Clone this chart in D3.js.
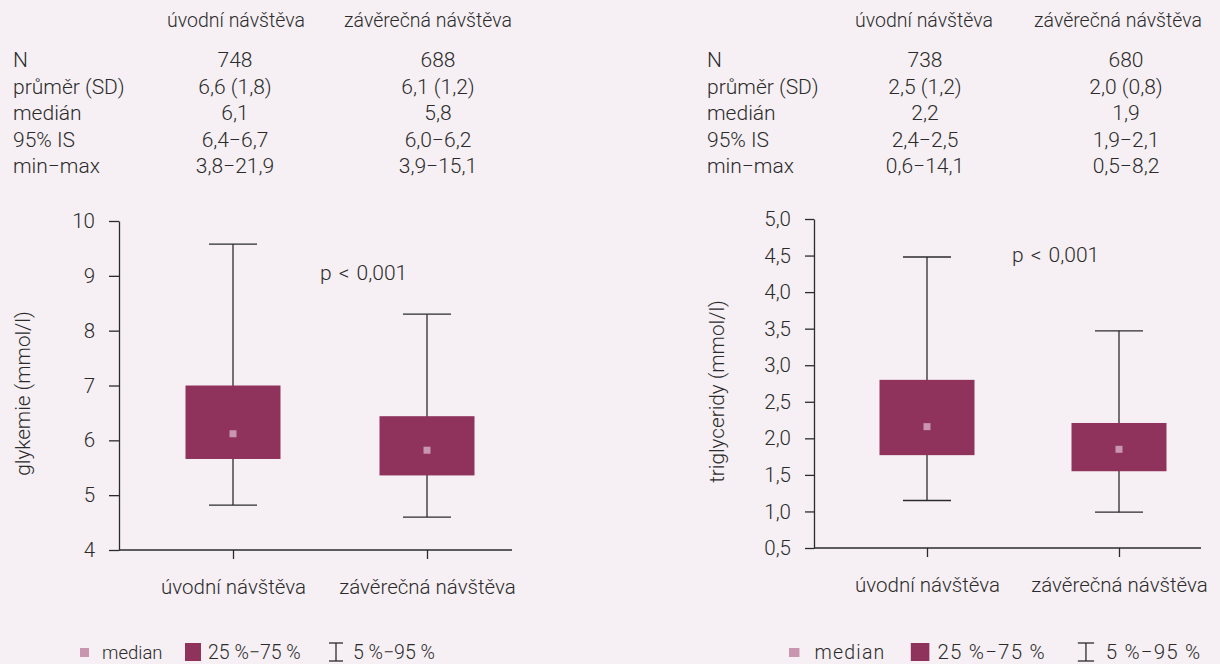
<!DOCTYPE html>
<html>
<head>
<meta charset="utf-8">
<script src="https://cdn.jsdelivr.net/npm/d3@7"></script>
<style>
    body { margin: 0; background: #f6f0f4; }
    svg text { font-family: Roboto, "Liberation Sans", sans-serif; font-weight: 300; fill: #2b2b2b; }
</style>
</head>
<body>
<svg></svg>
<script>
// categories and table rows
var categories = ["úvodní návštěva", "závěrečná návštěva"];
var rowLabels = ["N", "průměr (SD)", "medián", "95% IS", "min\u2212max"];

// glykemie: table texts and box statistics (5 %, 25 %, median, 75 %, 95 %)
var glyTable = [
    ["748", "688"],
    ["6,6 (1,8)", "6,1 (1,2)"],
    ["6,1", "5,8"],
    ["6,4\u22126,7", "6,0\u22126,2"],
    ["3,8\u221221,9", "3,9\u221215,1"]
];
var glyP5 = [4.82, 4.60];
var glyP25 = [5.66, 5.36];
var glyMedian = [6.12, 5.82];
var glyP75 = [7.00, 6.44];
var glyP95 = [9.58, 8.30];
var glyTicks = [4, 5, 6, 7, 8, 9, 10];

// triglyceridy
var tgTable = [
    ["738", "680"],
    ["2,5 (1,2)", "2,0 (0,8)"],
    ["2,2", "1,9"],
    ["2,4\u22122,5", "1,9\u22122,1"],
    ["0,6\u221214,1", "0,5\u22128,2"]
];
var tgP5 = [1.15, 0.99];
var tgP25 = [1.77, 1.55];
var tgMedian = [2.16, 1.85];
var tgP75 = [2.80, 2.21];
var tgP95 = [4.48, 3.47];
var tgTicks = [0.5, 1.0, 1.5, 2.0, 2.5, 3.0, 3.5, 4.0, 4.5, 5.0];

var legendLabels = ["median", "25 %\u221275 %", "5 %\u221295 %"];

var boxColor = "#8f325c";
var medianColor = "#c996b0";
var inkColor = "#2b2b2b";

const svg = d3.select('svg')
    .attr('width', 1220)
    .attr('height', 664);

var commaFormat = d3.formatLocale({ decimal: ",", thousands: " ", grouping: [3], currency: ["", ""] });

var panels = [
    {
        title: "glykemie (mmol/l)",
        table: glyTable, p5: glyP5, p25: glyP25, med: glyMedian, p75: glyP75, p95: glyP95,
        ticks: glyTicks, fmt: commaFormat.format("d"),
        axisX: 119, axisEnd: 512, yTop: 221, yBottom: 550,
        cats: [233, 427], header: [236, 428], cols: [235, 438],
        labelX: 13, titleX: 30, tickLen: 10,
        pX: 320, pY: 280,
        legendX: 80, legendScale: 1, legendFont: 19.5, legendSpacing: 0
    },
    {
        title: "triglyceridy (mmol/l)",
        table: tgTable, p5: tgP5, p25: tgP25, med: tgMedian, p75: tgP75, p95: tgP95,
        ticks: tgTicks, fmt: commaFormat.format(".1f"),
        axisX: 814, axisEnd: 1201, yTop: 219, yBottom: 548,
        cats: [927, 1119], header: [924, 1118], cols: [925, 1126],
        labelX: 707, titleX: 724, tickLen: 9,
        pX: 1012, pY: 262,
        legendX: 789, legendScale: 1.16, legendFont: 20.5, legendSpacing: 1.2
    }
];

panels.forEach(drawPanel);

function drawPanel(p) {
    var g = svg.append('g');

    // table above the chart
    g.selectAll('.head').data(categories).enter().append('text')
        .attr('x', (d, i) => p.header[i])
        .attr('y', 27)
        .attr('text-anchor', 'middle')
        .attr('font-size', 19.5)
        .text(d => d);

    rowLabels.forEach(function (label, r) {
        var y = 67 + r * 26.5;
        g.append('text').attr('x', p.labelX).attr('y', y).attr('font-size', 21).text(label);
        p.table[r].forEach(function (v, c) {
            g.append('text').attr('x', p.cols[c]).attr('y', y)
                .attr('text-anchor', 'middle').attr('font-size', 21).text(v);
        });
    });

    var y = d3.scaleLinear()
        .domain([p.ticks[0], p.ticks[p.ticks.length - 1]])
        .range([p.yBottom, p.yTop]);
    var x = d3.scalePoint().domain(categories).range(p.cats);

    // y axis
    var yAxis = g.append('g')
        .attr('transform', `translate(${p.axisX},0)`)
        .call(d3.axisLeft(y).tickValues(p.ticks).tickFormat(p.fmt)
            .tickSize(p.tickLen).tickSizeOuter(0).tickPadding(14));
    yAxis.selectAll('text').attr('font-size', 20.5).style('fill', inkColor);

    // x axis, line runs past the category ticks on both sides
    var xAxis = g.append('g')
        .attr('transform', `translate(0,${p.yBottom})`)
        .call(d3.axisBottom(x).tickSize(9).tickSizeOuter(0).tickPadding(20));
    xAxis.select('.domain').remove();
    xAxis.selectAll('text').attr('font-size', 20.5).style('fill', inkColor);
    g.append('line')
        .attr('x1', p.axisX).attr('x2', p.axisEnd)
        .attr('y1', p.yBottom).attr('y2', p.yBottom);

    g.selectAll('.domain, .tick line, line').attr('stroke', inkColor).attr('stroke-width', 1.3);

    // axis title
    g.append('text')
        .attr('transform', `translate(${p.titleX},${(p.yTop + p.yBottom) / 2 + 8}) rotate(-90)`)
        .attr('text-anchor', 'middle')
        .attr('font-size', 20.7)
        .text(p.title);

    var boxW = 95, capW = 48;
    categories.forEach(function (c, i) {
        var cx = x(c);
        // whisker
        g.append('line').attr('x1', cx).attr('x2', cx)
            .attr('y1', y(p.p95[i])).attr('y2', y(p.p5[i]))
            .attr('stroke', inkColor).attr('stroke-width', 1.3);
        [p.p95[i], p.p5[i]].forEach(function (v) {
            g.append('line').attr('x1', cx - capW / 2).attr('x2', cx + capW / 2)
                .attr('y1', y(v)).attr('y2', y(v))
                .attr('stroke', inkColor).attr('stroke-width', 1.3);
        });
        // box 25-75
        g.append('rect')
            .attr('x', cx - boxW / 2).attr('width', boxW)
            .attr('y', y(p.p75[i])).attr('height', y(p.p25[i]) - y(p.p75[i]))
            .attr('fill', boxColor);
        // median marker
        g.append('rect')
            .attr('x', cx - 3.5).attr('y', y(p.med[i]) - 3.5)
            .attr('width', 7).attr('height', 7)
            .attr('fill', medianColor);
    });

    g.append('text').attr('x', p.pX).attr('y', p.pY).attr('font-size', 21)
        .attr('word-spacing', 2).text("p < 0,001");

    // legend (right one is spread a bit wider)
    var lx = p.legendX, s = p.legendScale;
    g.append('rect').attr('x', lx).attr('y', 648).attr('width', 9 * s).attr('height', 9).attr('fill', medianColor);
    g.append('text').attr('x', lx + 22 * s).attr('y', 659).attr('font-size', p.legendFont - 1)
        .attr('letter-spacing', p.legendSpacing).text(legendLabels[0]);
    g.append('rect').attr('x', lx + 105 * s).attr('y', 643).attr('width', 16 * s).attr('height', 18).attr('fill', boxColor);
    g.append('text').attr('x', lx + 128 * s).attr('y', 659).attr('font-size', p.legendFont)
        .attr('letter-spacing', p.legendSpacing).text(legendLabels[1]);
    var wx = lx + 256 * s;
    g.append('line').attr('x1', wx).attr('x2', wx).attr('y1', 643).attr('y2', 661);
    g.append('line').attr('x1', wx - 7 * s).attr('x2', wx + 7 * s).attr('y1', 643).attr('y2', 643);
    g.append('line').attr('x1', wx - 7 * s).attr('x2', wx + 7 * s).attr('y1', 661).attr('y2', 661);
    g.selectAll('line').filter(function () { return !this.getAttribute('stroke'); })
        .attr('stroke', inkColor).attr('stroke-width', 1.3);
    g.append('text').attr('x', lx + 273 * s).attr('y', 659).attr('font-size', p.legendFont)
        .attr('letter-spacing', p.legendSpacing).text(legendLabels[2]);
}
</script>
</body>
</html>
